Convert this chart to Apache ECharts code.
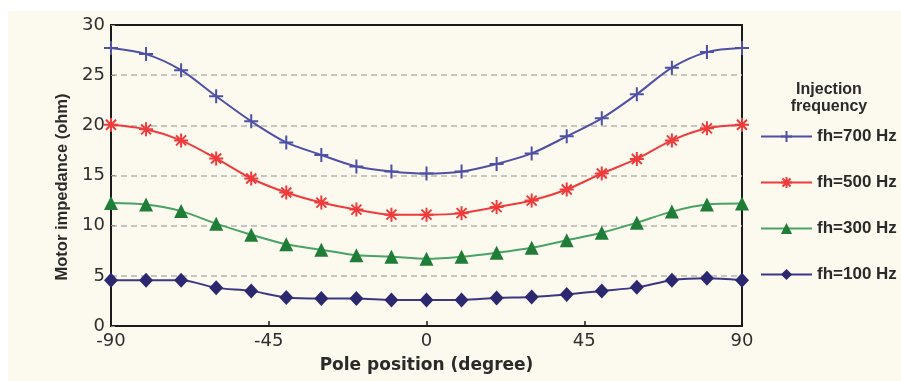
<!DOCTYPE html>
<html>
<head>
<meta charset="utf-8">
<script src="https://cdn.jsdelivr.net/npm/echarts@6/dist/echarts.min.js"></script>
<style>
  html, body { margin: 0; padding: 0; background: #ffffff; }
  #chart { width: 901px; height: 381px; }
</style>
</head>
<body>
<div id="chart"></div>
<script>
// Pole position of the rotor (degrees)
const polePositions = [-90, -80, -70, -60, -50, -40, -30, -20, -10, 0, 10, 20, 30, 40, 50, 60, 70, 80, 90];

// Measured motor impedance (ohm) for each injection frequency
const impedance700 = [27.7, 27.1, 25.5, 22.9, 20.4, 18.3, 17.05, 15.9, 15.4, 15.2, 15.4, 16.15, 17.2, 18.9, 20.7, 23.1, 25.75, 27.3, 27.7];
const impedance500 = [20.05, 19.6, 18.5, 16.7, 14.7, 13.3, 12.3, 11.6, 11.1, 11.1, 11.25, 11.85, 12.5, 13.6, 15.2, 16.65, 18.5, 19.7, 20.05];
const impedance300 = [12.25, 12.1, 11.45, 10.2, 9.1, 8.15, 7.6, 7.05, 6.9, 6.7, 6.9, 7.3, 7.8, 8.55, 9.3, 10.3, 11.4, 12.1, 12.2];
const impedance100 = [4.57, 4.57, 4.57, 3.8, 3.5, 2.85, 2.75, 2.75, 2.6, 2.6, 2.6, 2.8, 2.9, 3.15, 3.5, 3.85, 4.57, 4.75, 4.57];

const seriesNames = ['fh=700 Hz', 'fh=500 Hz', 'fh=300 Hz', 'fh=100 Hz'];

const pair = (vals) => polePositions.map((p, i) => [p, vals[i]]);

const PLUS = 'path://M0,7L14,7M7,0L7,14';
const STAR = 'path://M0,7L14,7M7,0L7,14M2,2L12,12M12,2L2,12';

const tickFont = { fontFamily: 'DejaVu Sans', fontSize: 18, color: '#2e2e2e' };

const chart = echarts.init(document.getElementById('chart'), null, { renderer: 'canvas' });

chart.setOption({
  backgroundColor: '#ffffff',
  animation: false,
  graphic: [
    {
      type: 'rect', z: -10, silent: true,
      shape: { x: 8, y: 11, width: 893, height: 370 },
      style: { fill: '#fcf9ee' }
    },
    {
      type: 'text', z: 10,
      x: 62, y: 187, rotation: Math.PI / 2,
      style: {
        text: 'Motor impedance (ohm)',
        fontFamily: 'Liberation Sans', fontWeight: 'bold', fontSize: 16.5,
        fill: '#2a2a2a', align: 'center', verticalAlign: 'middle'
      }
    },
    {
      type: 'text', z: 10,
      x: 829, y: 98,
      style: {
        text: 'Injection\nfrequency',
        fontFamily: 'Liberation Sans', fontWeight: 'bold', fontSize: 16,
        lineHeight: 17,
        fill: '#2a2a2a', align: 'center', verticalAlign: 'middle'
      }
    }
  ],
  grid: {
    left: 111, right: 159, top: 25, bottom: 55,
    show: true, borderColor: '#1a1a1a', borderWidth: 2, backgroundColor: 'transparent'
  },
  legend: {
    orient: 'vertical',
    left: 760, top: 128, padding: 0,
    itemWidth: 51, itemHeight: 14, itemGap: 29,
    data: seriesNames,
    textStyle: { fontFamily: 'Liberation Sans', fontWeight: 'bold', fontSize: 17, color: '#2a2a2a' }
  },
  xAxis: {
    type: 'value',
    min: -90, max: 90, interval: 45,
    name: 'Pole position (degree)',
    nameLocation: 'middle', nameGap: 31,
    nameTextStyle: { fontFamily: 'DejaVu Sans', fontWeight: 'bold', fontSize: 17, color: '#2a2a2a' },
    axisLine: { show: true, onZero: false, lineStyle: { color: '#1a1a1a', width: 2 } },
    axisTick: { show: true, inside: true, length: 5, lineStyle: { color: '#1a1a1a', width: 1.5 } },
    axisLabel: Object.assign({ margin: 6 }, tickFont),
    splitLine: { show: false }
  },
  yAxis: {
    type: 'value',
    min: 0, max: 30, interval: 5,
    axisLine: { show: true, onZero: false, lineStyle: { color: '#1a1a1a', width: 2 } },
    axisTick: { show: true, inside: true, length: 4, lineStyle: { color: '#888888', width: 1 } },
    axisLabel: Object.assign({ margin: 6 }, tickFont),
    splitLine: {
      show: true, showMinLine: false, showMaxLine: false,
      lineStyle: { color: '#b4b4b0', width: 1.5, type: [6, 4] }
    }
  },
  series: [
    {
      name: seriesNames[0], type: 'line', smooth: 0.3,
      data: pair(impedance700),
      symbol: PLUS, symbolSize: 14,
      lineStyle: { color: '#4d50a4', width: 2 },
      itemStyle: { color: '#4d50a4', borderColor: '#4d50a4', borderWidth: 2 }
    },
    {
      name: seriesNames[1], type: 'line', smooth: 0.3,
      data: pair(impedance500),
      symbol: STAR, symbolSize: 14,
      lineStyle: { color: '#ee3b3b', width: 2 },
      itemStyle: { color: '#ee3b3b', borderColor: '#ee3b3b', borderWidth: 2 }
    },
    {
      name: seriesNames[2], type: 'line', smooth: 0.3,
      data: pair(impedance300),
      symbol: 'triangle', symbolSize: 14,
      lineStyle: { color: '#49a365', width: 2 },
      itemStyle: { color: '#1f7d38', borderWidth: 0 }
    },
    {
      name: seriesNames[3], type: 'line', smooth: 0.3,
      data: pair(impedance100),
      symbol: 'diamond', symbolSize: [14, 15],
      lineStyle: { color: '#3b3783', width: 2 },
      itemStyle: { color: '#2c286f', borderWidth: 0 }
    }
  ]
});
</script>
</body>
</html>
